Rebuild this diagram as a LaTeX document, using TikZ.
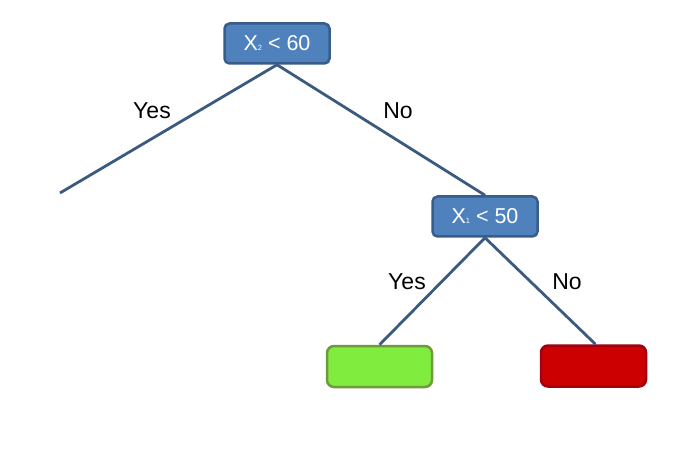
\documentclass[tikz,border=0pt]{standalone}
\usepackage{fontspec}
\setmainfont{Liberation Sans}
\usepackage{tikz}
\usetikzlibrary{positioning}
\definecolor{splitfill}{HTML}{4F81BD}
\definecolor{splitline}{HTML}{385D8A}
\definecolor{edgeblue}{HTML}{3C5A80}
\definecolor{yesfill}{HTML}{80EC3E}
\definecolor{yesline}{HTML}{6F9A3C}
\definecolor{nofill}{HTML}{CC0000}
\definecolor{noline}{HTML}{A00010}
\newcommand{\tinysub}[1]{{\fontsize{7.5}{8}\selectfont #1}}

\begin{document}
\begin{tikzpicture}[x=1pt,y=-1pt,font=\fontsize{23}{26}\selectfont,
    split/.style={draw=splitline,fill=splitfill,text=white,line width=2.5pt,rounded corners=5pt,
      minimum width=105pt,minimum height=40pt,font=\fontsize{21.5}{24}\selectfont},
    leaf/.style={line width=2.5pt,rounded corners=7pt,minimum width=105pt,minimum height=41pt},
    edge/.style={draw=edgeblue,line width=2.8pt}]
    \useasboundingbox (0,0) rectangle (674,454);
    % splits
    \node[split] (root) at (277,43.5) {X\tinysub{2} < 60};
    \node[split] (right) at (485,216.5) {X\tinysub{1} < 50};
    % leaves
    \node[leaf,draw=yesline,fill=yesfill] (green) at (379.5,366.5) {};
    \node[leaf,draw=noline,fill=nofill] (red) at (593.5,366) {};
    \coordinate (leftend) at (60,193);
    % branches
    \draw[edge] (root.south) -- (leftend);
    \draw[edge] (root.south) -- (right.north);
    \draw[edge] (right.south) -- (green.north);
    \draw[edge] (right.south) -- ([xshift=2pt]red.north);
    \node (yes1) at (152,111) {Yes};
    \node (no1) at (398,111) {No};
    \node (yes2) at (407,282) {Yes};
    \node (no2) at (567,282) {No};
  \end{tikzpicture}
\end{document}
